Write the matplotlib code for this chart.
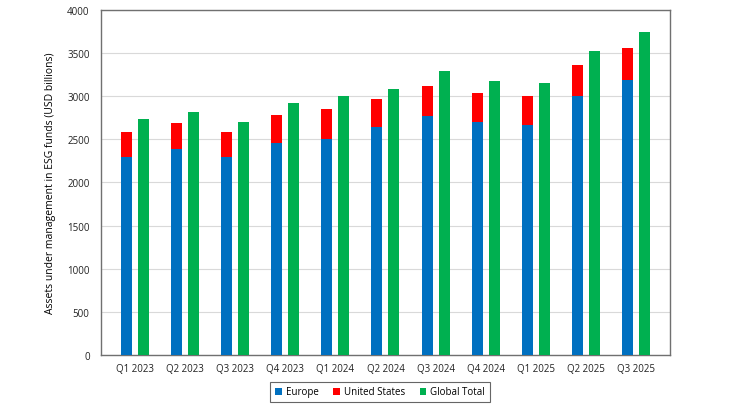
import numpy as np
import matplotlib
matplotlib.use("Agg")
import matplotlib.pyplot as plt

quarters = ["Q1 2023", "Q2 2023", "Q3 2023", "Q4 2023", "Q1 2024", "Q2 2024",
            "Q3 2024", "Q4 2024", "Q1 2025", "Q2 2025", "Q3 2025"]
europe = [2300, 2390, 2290, 2460, 2510, 2640, 2770, 2700, 2670, 3000, 3190]
us_top = [2590, 2690, 2580, 2780, 2850, 2970, 3120, 3040, 3000, 3360, 3560]
global_total = [2740, 2820, 2700, 2920, 3000, 3090, 3290, 3180, 3155, 3530, 3740]
united_states = [t - e for t, e in zip(us_top, europe)]

plt.rcParams['font.family'] = ['Open Sans', 'DejaVu Sans']

fig = plt.figure(figsize=(7.3, 4.1), dpi=100)
ax = fig.add_axes([0.138, 0.132, 0.780, 0.841])

x = np.arange(len(quarters))
w = 0.22
ax.bar(x - 0.17, europe, w, color='#0070C0', label='Europe', zorder=3)
ax.bar(x - 0.17, united_states, w, bottom=europe, color='#FF0000', label='United States', zorder=3)
ax.bar(x + 0.17, global_total, w, color='#00B050', label='Global Total', zorder=3)

ax.set_xlim(-0.68, len(quarters) - 1 + 0.68)
ax.set_ylim(0, 4000)
ax.set_yticks(range(0, 4001, 500))
ax.set_xticks(x)
ax.set_xticklabels(quarters)
ax.tick_params(length=0, labelsize=7, colors='#222222')
ax.tick_params(axis='y', pad=8)
ax.tick_params(axis='x', pad=6)
ax.grid(axis='y', color='#d9d9d9', linewidth=0.8, zorder=0)
for s in ax.spines.values():
    s.set_color('#707070')
    s.set_linewidth(1.0)

ax.set_ylabel('Assets under management in ESG funds (USD billions)', fontsize=7.5)
ax.yaxis.set_label_coords(-0.078, 0.5)

leg = fig.legend(loc='center', bbox_to_anchor=(380 / 730, 1 - 393 / 410), ncol=3,
                 fontsize=7, frameon=True, fancybox=False, handlelength=0.7,
                 handleheight=0.7, handletextpad=0.4, columnspacing=1.5,
                 borderpad=0.5)
leg.get_frame().set_edgecolor('#404040')
leg.get_frame().set_linewidth(0.8)

fig.savefig('out.png', dpi=100)
